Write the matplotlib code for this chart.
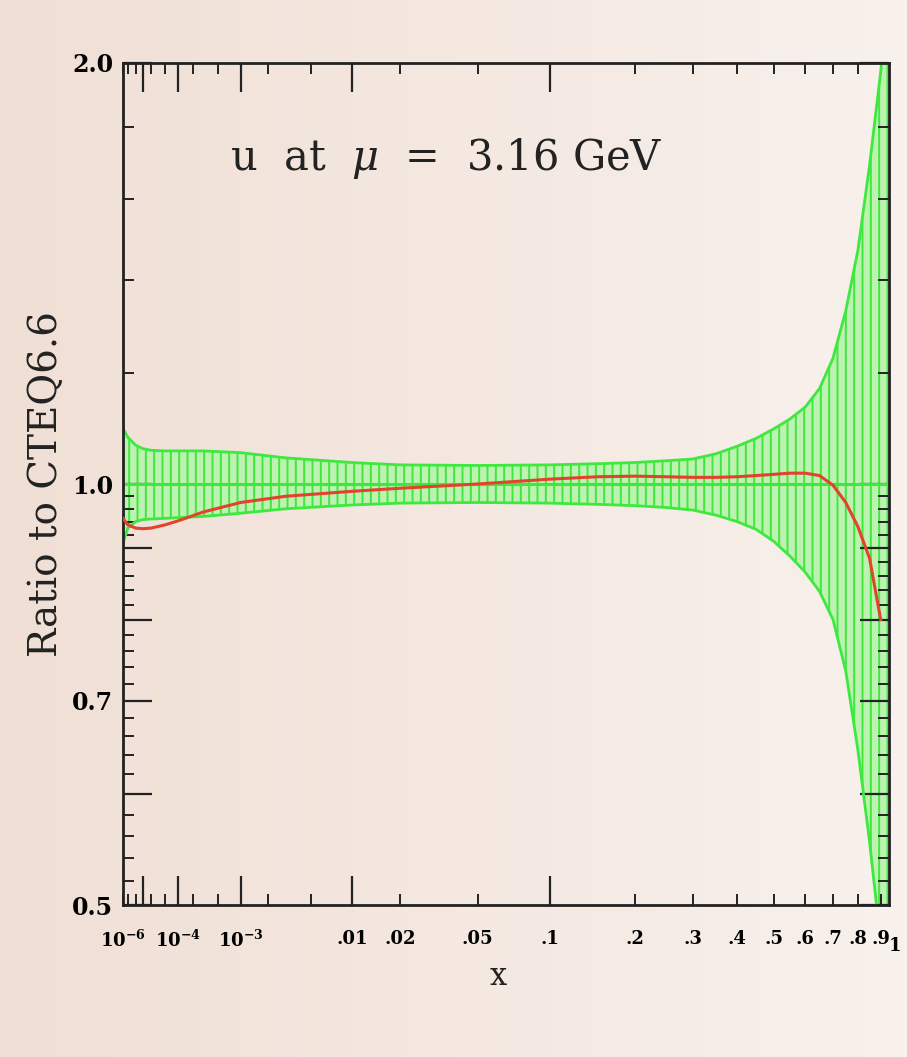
import numpy as np
import matplotlib
matplotlib.use("Agg")
import matplotlib.pyplot as plt
from matplotlib.ticker import FixedLocator, FixedFormatter

# band (CTEQ6.6 uncertainty) and ratio curve
x_vals = [1e-6, 2e-6, 5e-6, 1e-5, 2e-5, 5e-5, 1e-4, 3e-4, 1e-3, 3e-3,
          0.01, 0.02, 0.05, 0.1, 0.15, 0.2, 0.25, 0.3, 0.35, 0.4,
          0.45, 0.5, 0.55, 0.6, 0.65, 0.7, 0.75, 0.8, 0.85, 0.9, 0.94]
band_hi = [1.096, 1.080, 1.066, 1.060, 1.057, 1.056, 1.056, 1.056, 1.053, 1.044,
           1.036, 1.032, 1.031, 1.032, 1.034, 1.036, 1.039, 1.042, 1.051, 1.064,
           1.078, 1.095, 1.113, 1.135, 1.170, 1.230, 1.330, 1.470, 1.690, 1.970, 2.300]
band_lo = [0.907, 0.930, 0.940, 0.943, 0.944, 0.945, 0.946, 0.948, 0.953, 0.960,
           0.966, 0.969, 0.970, 0.969, 0.967, 0.965, 0.962, 0.958, 0.950, 0.940,
           0.928, 0.910, 0.888, 0.865, 0.838, 0.800, 0.735, 0.645, 0.555, 0.470, 0.440]

red_x = [1e-6, 2e-6, 5e-6, 1e-5, 2e-5, 5e-5, 1e-4, 3e-4, 1e-3, 3e-3,
         0.01, 0.02, 0.05, 0.1, 0.15, 0.2, 0.25, 0.3, 0.35, 0.4,
         0.45, 0.5, 0.55, 0.6, 0.65, 0.7, 0.75, 0.8, 0.85, 0.9]
red_ratio = [0.945, 0.935, 0.930, 0.929, 0.930, 0.935, 0.941, 0.955, 0.970, 0.980,
             0.988, 0.993, 1.000, 1.008, 1.012, 1.013, 1.012, 1.011, 1.011, 1.012,
             1.014, 1.016, 1.018, 1.018, 1.014, 0.998, 0.970, 0.932, 0.885, 0.800]

# axis ticks
x_major = [1e-5, 1e-4, 1e-3, 1e-2, 0.1]
x_major_labels = ["", r"$\mathbf{10^{-4}}$", r"$\mathbf{10^{-3}}$", ".01", ".1"]
x_minor = [1e-6, 2e-6, 5e-6, 2e-5, 5e-5, 2e-4, 5e-4, 2e-3, 5e-3, 0.02, 0.05,
           0.2, 0.3, 0.4, 0.5, 0.6, 0.7, 0.8, 0.9]
x_minor_labels = [r"$\mathbf{10^{-6}}$", "", "", "", "", "", "", "", "", ".02", ".05",
                  ".2", ".3", ".4", ".5", ".6", ".7", ".8", ".9"]
y_major = [0.5, 0.6, 0.7, 0.8, 0.9, 1.0, 2.0]
y_major_labels = ["0.5", "", "0.7", "", "", "1.0", "2.0"]
y_minor = [0.52, 0.54, 0.56, 0.58, 0.62, 0.64, 0.66, 0.68, 0.72, 0.74, 0.76, 0.78,
           0.82, 0.84, 0.86, 0.88, 0.92, 0.94, 0.96, 0.98, 1.2, 1.4, 1.6, 1.8]

plt.rcParams["font.family"] = "DejaVu Serif"
plt.rcParams["mathtext.fontset"] = "dejavuserif"
plt.rcParams["hatch.linewidth"] = 1.4

green = "#3fe83f"
fill_green = "#bdf2b0"
red = "#e2432c"


def fwd(v):
    v = np.asarray(v, dtype=float)
    return np.power(np.where(v > 0, v, 1e-12), 0.25)


def inv(v):
    v = np.asarray(v, dtype=float)
    return np.power(np.where(v > 0, v, 0), 4)


fig = plt.figure(figsize=(9.07, 10.57), dpi=100)
fig.patch.set_facecolor("#f4e8df")

# soft slide background
bg = fig.add_axes([0, 0, 1, 1], zorder=-5)
grad = np.linspace(0, 1, 256)[None, :] * np.ones((8, 1))
bg.imshow(grad, aspect="auto", extent=[0, 1, 0, 1],
          cmap=matplotlib.colors.LinearSegmentedColormap.from_list("bg", ["#f0dfd5", "#f8f1ec"]))
bg.axis("off")

ax = fig.add_axes([0.1356, 0.1438, 0.8448, 0.7966])
ax.set_facecolor("none")
ax.set_xscale("function", functions=(fwd, inv))
ax.set_yscale("log")
ax.set_xlim(1e-6, 0.94)
ax.set_ylim(0.5, 2.0)

ax.fill_between(x_vals, band_lo, band_hi, facecolor=fill_green, edgecolor=green,
                hatch="||", linewidth=0, zorder=1)
ax.plot(x_vals, band_hi, color=green, lw=2, zorder=2)
ax.plot(x_vals, band_lo, color=green, lw=2, zorder=2)
ax.axhline(1.0, color=green, lw=2.2, zorder=2)
ax.plot(red_x, red_ratio, color=red, lw=2.2, zorder=3)

ax.xaxis.set_major_locator(FixedLocator(x_major))
ax.xaxis.set_major_formatter(FixedFormatter(x_major_labels))
ax.xaxis.set_minor_locator(FixedLocator(x_minor))
ax.xaxis.set_minor_formatter(FixedFormatter(x_minor_labels))
ax.yaxis.set_major_locator(FixedLocator(y_major))
ax.yaxis.set_major_formatter(FixedFormatter(y_major_labels))
ax.yaxis.set_minor_locator(FixedLocator(y_minor))
ax.yaxis.set_minor_formatter(FixedFormatter([""] * len(y_minor)))

ax.tick_params(which="both", direction="in", top=True, right=True, color="#222222")
ax.tick_params(which="major", length=21, width=1.6)
ax.tick_params(which="minor", length=8, width=1.4)
ax.tick_params(axis="x", which="both", labelsize=13, pad=18)
ax.tick_params(axis="y", which="both", labelsize=17, pad=7)
for lab in ax.get_xticklabels(which="both") + ax.get_yticklabels():
    lab.set_fontweight("bold")
for s in ax.spines.values():
    s.set_linewidth(2)
    s.set_color("#222222")

ax.text(1.0, -0.038, "1", transform=ax.transAxes, ha="left", va="top",
        fontsize=13, fontweight="bold")

ax.text(0.14, 0.873, r"u  at  $\mu$  =  3.16 GeV", transform=ax.transAxes,
        fontsize=30, va="baseline", color="#222222")
ax.set_ylabel("Ratio to CTEQ6.6", fontsize=28, labelpad=5, color="#222222")
ax.set_xlabel("x", fontsize=22, color="#222222")
ax.xaxis.set_label_coords(0.49, -0.066)

fig.savefig("out.png", dpi=100, facecolor=fig.get_facecolor())
